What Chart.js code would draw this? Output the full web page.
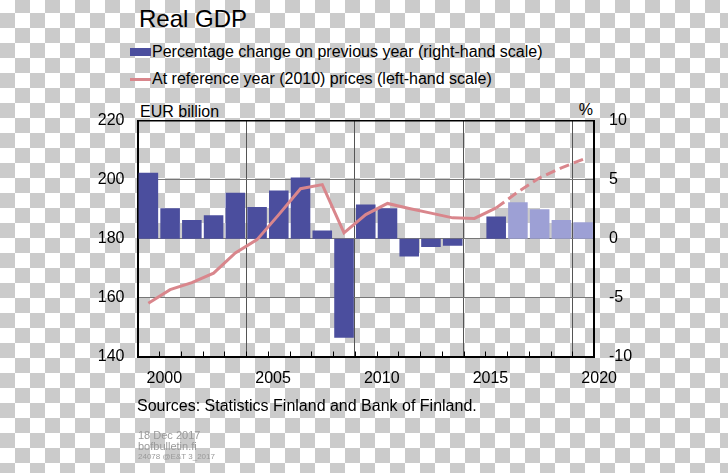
<!DOCTYPE html>
<html lang="en">
<head>
<meta charset="UTF-8" />
<title>Real GDP</title>
<script src="https://cdn.jsdelivr.net/npm/chart.js"></script>
<style>
  body {
    margin: 0;
    width: 728px;
    height: 473px;
    overflow: hidden;
    position: relative;
    font-family: "Liberation Sans", Arial, sans-serif;
    background-color: #fff;
    background-image: repeating-conic-gradient(#cbcbcb 0% 25%, #fff 0% 50%);
    background-size: 30px 30px;
    background-position: 0 -2px;
  }
  canvas { position: absolute; left: 0; top: 0; }
  .txt { position: absolute; line-height: 1; white-space: nowrap; color: #000; }
  .swatch { position: absolute; }
</style>
</head>
<body>

  <!-- titulo e legenda -->
  <div class="txt" style="left:139px; top:7px; font-size:24px;">Real GDP</div>
  <div class="swatch" style="left:130px; top:48px; width:21px; height:8px; background:#4b4e9e;"></div>
  <div class="txt" style="left:152px; top:43.5px; font-size:16px;">Percentage change on previous year (right-hand scale)</div>
  <div class="swatch" style="left:130px; top:78px; width:21px; height:3px; background:#d9868c;"></div>
  <div class="txt" style="left:152px; top:70.5px; font-size:16px;">At reference year (2010) prices (left-hand scale)</div>

  <!-- unidades dos eixos -->
  <div class="txt" style="left:140px; top:103.5px; font-size:16px;">EUR billion</div>
  <div class="txt" style="right:135px; top:101.5px; font-size:16px;">%</div>

  <canvas id="grafico" width="728" height="473"></canvas>

  <!-- rodape -->
  <div class="txt" style="left:137px; top:397.5px; font-size:16px;">Sources: Statistics Finland and Bank of Finland.</div>
  <div class="txt" style="left:138px; top:429.5px; font-size:11px; color:#9a9a9a;">18 Dec 2017</div>
  <div class="txt" style="left:138px; top:440.5px; font-size:11px; color:#9a9a9a;">bofbulletin.fi</div>
  <div class="txt" style="left:138px; top:453px; font-size:8px; color:#9a9a9a;">24078 @E&amp;T 3_2017</div>

<script>
  // dados
  const years = ['2000', '2001', '2002', '2003', '2004', '2005', '2006', '2007', '2008', '2009', '2010',
                 '2011', '2012', '2013', '2014', '2015', '2016', '2017', '2018', '2019', '2020'];
  const growthPct = [5.6, 2.6, 1.6, 2.0, 3.9, 2.7, 4.1, 5.2, 0.7, -8.4, 2.9,
                     2.6, -1.5, -0.7, -0.6, 0.0, 1.9, 3.1, 2.5, 1.6, 1.4];
  const gdpLevel = [158.1, 162.7, 165.1, 168.3, 175.2, 179.7, 188.2, 197.0, 198.4, 182.0, 188.2,
                    192.0, 190.3, 188.7, 187.1, 186.9, 190.5, 195.9, 200.7, 204.1, 207.0];
  const firstForecast = '2017';
  const leftTicks = [140, 160, 180, 200, 220];
  const rightTicks = [-10, -5, 0, 5, 10];

  const fcIdx = years.indexOf(firstForecast);
  const fontTick = { family: '"Liberation Sans", Arial, sans-serif', size: 16 };

  // pequenas marcas internas no eixo x
  const innerTicks = {
    id: 'innerTicks',
    afterDatasetsDraw(chart) {
      const { ctx, chartArea, scales: { x } } = chart;
      const half = (x.getPixelForValue(1) - x.getPixelForValue(0)) / 2;
      ctx.save();
      ctx.strokeStyle = '#000';
      ctx.lineWidth = 1;
      for (let i = 1; i < years.length; i++) {
        const px = Math.round(x.getPixelForValue(i) - half) + 0.5;
        ctx.beginPath();
        ctx.moveTo(px, chartArea.bottom);
        ctx.lineTo(px, chartArea.bottom - 5);
        ctx.stroke();
      }
      ctx.restore();
    }
  };

  new Chart(document.getElementById('grafico'), {
    type: 'bar',
    data: {
      labels: years,
      datasets: [
        {
          type: 'line',
          label: 'At reference year (2010) prices (left-hand scale)',
          data: gdpLevel,
          yAxisID: 'y',
          borderColor: '#d9868c',
          borderWidth: 3,
          pointRadius: 0,
          tension: 0,
          order: 0,
          segment: {
            borderDash: c => c.p1DataIndex >= fcIdx ? [10, 5] : undefined
          }
        },
        {
          label: 'Percentage change on previous year (right-hand scale)',
          data: growthPct,
          yAxisID: 'y2',
          backgroundColor: years.map((y, i) => i >= fcIdx ? '#9da0d5' : '#4b4e9e'),
          barPercentage: 0.9,
          categoryPercentage: 1.0,
          order: 1
        }
      ]
    },
    options: {
      responsive: false,
      animation: false,
      layout: { padding: { top: 121, left: 0, right: 0, bottom: 0 } },
      plugins: {
        legend: { display: false },
        tooltip: { enabled: false }
      },
      scales: {
        x: {
          offset: true,
          afterFit: s => { s.height = 116.5; },
          grid: {
            offset: true,
            drawTicks: false,
            lineWidth: 1,
            color: c => (c.index > 0 && c.index < years.length && c.index % 5 === 0) ? '#555' : 'rgba(0,0,0,0)'
          },
          border: { color: '#000', width: 2 },
          ticks: {
            autoSkip: false,
            maxRotation: 0,
            color: '#000',
            font: fontTick,
            padding: 12,
            labelOffset: 16,
            callback: (v, i) => (Number(years[i]) % 5 === 0 ? years[i] : '')
          }
        },
        y: {
          position: 'left',
          min: leftTicks[0],
          max: leftTicks[leftTicks.length - 1],
          afterFit: s => { s.width = 137.5; },
          afterBuildTicks: s => { s.ticks = leftTicks.map(v => ({ value: v })); },
          grid: {
            drawTicks: false,
            color: c => c.tick.value === 220 ? '#000' : '#777',
            lineWidth: c => c.tick.value === 220 ? 1.5 : 1
          },
          border: { color: '#000', width: 2 },
          ticks: { color: '#000', font: fontTick, padding: 13 }
        },
        y2: {
          position: 'right',
          min: rightTicks[0],
          max: rightTicks[rightTicks.length - 1],
          afterFit: s => { s.width = 134; },
          afterBuildTicks: s => { s.ticks = rightTicks.map(v => ({ value: v })); },
          grid: { display: false, drawTicks: false },
          border: { color: '#000', width: 2 },
          ticks: { color: '#000', font: fontTick, padding: 15 }
        }
      }
    },
    plugins: [innerTicks]
  });
</script>
</body>
</html>
